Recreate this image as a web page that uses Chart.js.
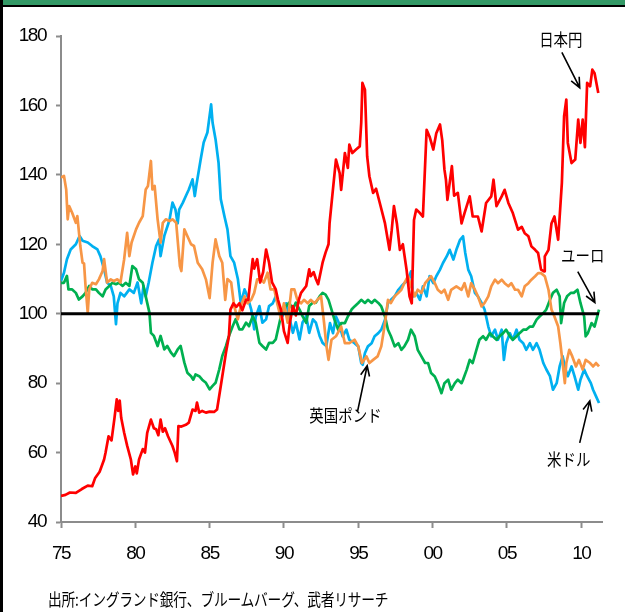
<!DOCTYPE html>
<html>
<head>
<meta charset="utf-8">
<script src="https://cdn.jsdelivr.net/npm/chart.js@4.4.1/dist/chart.umd.min.js"></script>
<style>
html, body { margin: 0; padding: 0; background: #fff; }
#frame { position: relative; width: 625px; height: 612px; overflow: hidden; }
#band { position: absolute; left: 0; top: 0; width: 625px; height: 5px; background: #339966; border-bottom: 2px solid #000; }
#edge { position: absolute; left: 0; top: 0; width: 3px; height: 612px; background: #000; }
#chart { position: absolute; left: 0; top: 0; }
#src { position: absolute; left: 48px; top: 586px; font: 17px "Noto Sans CJK JP"; color: #000;
       transform: scaleX(0.81); transform-origin: 0 0; white-space: nowrap; letter-spacing: -0.3px; }
</style>
</head>
<body>
<div id="frame">
  <div id="band"></div>
  <div id="edge"></div>
  <canvas id="chart" width="625" height="612"></canvas>
  <div id="src">出所:イングランド銀行、ブルームバーグ、武者リサーチ</div>
</div>
<script>
// 実効為替レート (年, 指数)
var yen = [
  [1975.0,47.5],[1975.3,47.8],[1975.6,48.5],[1976.0,48.4],[1976.4,49.5],[1976.8,50.5],[1977.1,50.3],
  [1977.3,52.7],[1977.6,54.5],[1977.9,58],[1978.0,60],[1978.2,64.7],[1978.4,63.5],[1978.6,70],
  [1978.75,75.3],[1978.85,72],[1978.95,75],[1979.05,70],[1979.25,65.7],[1979.45,62],[1979.7,58],
  [1979.85,53.7],[1980.0,56],[1980.1,54],[1980.25,58],[1980.5,61],[1980.65,60],[1980.8,65.7],
  [1981.05,69.5],[1981.25,67],[1981.4,66.7],[1981.55,65],[1981.7,69.5],[1981.85,66],[1982.0,67],
  [1982.2,64.7],[1982.5,61.9],[1982.65,60],[1982.8,57.5],[1982.9,67.6],[1983.1,67.5],[1983.4,68],
  [1983.6,68.6],[1983.85,72.4],[1984.05,72],[1984.15,74.4],[1984.3,71.5],[1984.5,72],[1984.75,71.5],
  [1985.0,71.8],[1985.3,71.7],[1985.5,72.4],[1985.75,79.2],[1986.0,86],[1986.1,88.8],[1986.3,93.6],
  [1986.4,101.2],[1986.6,103],[1986.8,102],[1987.0,103],[1987.2,101],[1987.45,104],[1987.6,104],
  [1987.75,110],[1987.9,115.7],[1988.0,113],[1988.2,115.7],[1988.4,109],[1988.6,112],[1988.8,118.5],
  [1989.0,114.7],[1989.2,109],[1989.45,107],[1989.6,104],[1989.8,101.2],[1990.0,95],[1990.25,91.6],
  [1990.4,97.4],[1990.6,102.2],[1990.8,99.5],[1991.0,104],[1991.15,106],[1991.5,108],[1991.7,112.8],
  [1991.8,110.8],[1992.0,112],[1992.15,110],[1992.3,108.5],[1992.6,114.7],[1992.8,117.6],[1993.0,120],
  [1993.07,126],[1993.25,133.8],[1993.5,144.4],[1993.75,140.5],[1993.85,135.7],[1994.1,146.3],
  [1994.3,142],[1994.4,148.7],[1994.6,146.3],[1994.85,147.3],[1995.1,148.2],[1995.2,155],
  [1995.28,166.5],[1995.45,164.5],[1995.6,145.3],[1995.75,139.6],[1996.0,134.8],[1996.2,136],
  [1996.45,131.9],[1996.8,126],[1997.1,118.4],[1997.25,124],[1997.4,131],[1997.6,126],[1997.8,118.4],
  [1998.0,120],[1998.25,112.7],[1998.45,105],[1998.6,103],[1998.75,127],[1998.9,130],[1999.15,129],
  [1999.35,128],[1999.6,153],[1999.8,151],[2000.05,147.3],[2000.25,152],[2000.5,154.5],[2000.65,150],
  [2000.8,141.5],[2000.9,138.6],[2001.0,132.8],[2001.3,142.5],[2001.45,134],[2001.7,134.8],
  [2001.95,126],[2002.15,129],[2002.5,133.8],[2002.7,128],[2003.05,128],[2003.3,123.7],[2003.6,131.9],
  [2003.95,133.8],[2004.1,138.6],[2004.3,131],[2004.65,133.8],[2004.85,135.7],[2005.1,131.9],
  [2005.4,129],[2005.75,124.2],[2006.0,125],[2006.2,123.2],[2006.45,122.3],[2006.65,119.4],
  [2006.9,118.4],[2007.1,117.5],[2007.3,112.7],[2007.5,112.2],[2007.55,116.5],[2007.8,118.4],
  [2008.0,126],[2008.2,128],[2008.45,121.3],[2008.7,137.7],[2008.85,156.9],[2009.0,161.7],
  [2009.1,149.2],[2009.35,143.4],[2009.6,144.4],[2009.8,155.9],[2009.95,149.2],[2010.1,155.9],
  [2010.25,148],[2010.4,166.5],[2010.6,165.5],[2010.75,170.3],[2010.9,169.3],[2011.15,163.6]
];

var usd = [
  [1975.0,109.4],[1975.2,111.8],[1975.4,115.7],[1975.65,118.5],[1976.0,120],[1976.25,122.4],
  [1976.45,121],[1976.8,120.5],[1977.1,119.5],[1977.45,118.5],[1977.65,116.6],[1977.9,112.8],
  [1978.1,109],[1978.35,108],[1978.55,105],[1978.7,97],[1978.8,103],[1979.0,106],[1979.25,105],
  [1979.6,107],[1979.9,106],[1980.15,109],[1980.4,103],[1980.55,108],[1980.7,105],[1980.9,109],
  [1981.15,114.7],[1981.4,119.5],[1981.6,121.4],[1981.7,116.6],[1981.95,122.4],[1982.3,127],
  [1982.5,132],[1982.7,130],[1982.85,126],[1982.95,130],[1983.2,132],[1983.4,133.9],[1983.6,135.8],
  [1983.85,138.7],[1984.0,133.9],[1984.1,136.8],[1984.4,144.5],[1984.6,149.3],[1984.85,152.2],
  [1985.1,160.3],[1985.2,155],[1985.4,150.2],[1985.6,143.5],[1985.75,133],[1986.0,128],[1986.2,124.3],
  [1986.4,116.6],[1986.65,114.7],[1986.9,110],[1987.1,103],[1987.35,107],[1987.55,105],[1987.8,101.2],
  [1988.0,95.5],[1988.1,99],[1988.35,102.2],[1988.55,97.4],[1988.8,98.4],[1989.0,102.2],[1989.25,103],
  [1989.45,105],[1989.7,101.2],[1989.9,99.3],[1990.15,103],[1990.35,99.3],[1990.6,94.5],[1990.8,97.5],
  [1991.05,92.6],[1991.25,97.5],[1991.5,99.3],[1991.7,94.5],[1991.95,98.4],[1992.15,97.4],
  [1992.4,93.6],[1992.6,91.6],[1992.85,90.7],[1993.1,97.3],[1993.3,94.4],[1993.5,99.2],[1993.7,97.3],
  [1993.95,93.5],[1994.2,95.4],[1994.4,92.5],[1994.75,91.5],[1995.0,90.6],[1995.2,85.8],[1995.3,85.3],
  [1995.45,88.7],[1995.65,90.6],[1995.9,91.5],[1996.1,93.5],[1996.35,94.4],[1996.55,95.4],
  [1996.8,98.3],[1997.0,103.1],[1997.2,104],[1997.45,105],[1997.7,106.9],[1997.9,107.9],[1998.1,108.8],
  [1998.35,109.8],[1998.55,112.2],[1998.7,105],[1998.9,106],[1999.15,104],[1999.35,107.9],[1999.6,105],
  [1999.8,110.8],[2000.05,108.8],[2000.25,110.8],[2000.5,112.7],[2000.7,114.6],[2000.95,116.5],
  [2001.15,118.4],[2001.4,115.6],[2001.6,118.4],[2001.85,121.3],[2002.05,122.3],[2002.2,117.5],
  [2002.4,112.7],[2002.6,110.8],[2002.85,106],[2003.05,105],[2003.3,103.1],[2003.5,101.2],
  [2003.75,96.3],[2003.95,93.5],[2004.2,95.4],[2004.4,92.5],[2004.65,95.4],[2004.8,86.7],
  [2004.95,91.5],[2005.2,94.4],[2005.4,92.5],[2005.65,95.4],[2005.85,92.5],[2006.1,91.5],
  [2006.3,89.6],[2006.55,91.5],[2006.75,89.6],[2007.0,91.5],[2007.2,89.6],[2007.45,85.8],[2007.65,84],
  [2007.9,82],[2008.1,78.1],[2008.35,80],[2008.55,84.8],[2008.75,87.7],[2008.95,83.9],[2009.1,82],
  [2009.35,84.8],[2009.55,82],[2009.8,78.1],[2009.95,81],[2010.2,83.9],[2010.4,82],[2010.65,80],
  [2010.8,78.1],[2011.0,76.2],[2011.2,74.3]
];

var gbp = [
  [1975.0,139.2],[1975.2,139.7],[1975.35,135.8],[1975.45,127.2],[1975.55,131],[1975.75,129.1],
  [1976.0,126.2],[1976.1,128.1],[1976.3,119.5],[1976.45,114.7],[1976.55,114.5],[1976.65,108],
  [1976.8,100.3],[1976.9,107],[1977.1,108.9],[1977.35,108.5],[1977.55,109.9],[1977.8,112.3],
  [1977.9,115.7],[1978.1,109],[1978.35,109.9],[1978.55,109.4],[1978.8,109.9],[1979.0,109],
  [1979.25,115.7],[1979.45,123.3],[1979.6,116.6],[1979.75,120.5],[1980.05,124.3],[1980.25,126.2],
  [1980.5,128.1],[1980.7,135.8],[1980.85,136.8],[1981.05,144],[1981.15,135.8],[1981.3,136.8],
  [1981.5,127.2],[1981.7,120.5],[1981.85,126.2],[1982.05,127.2],[1982.3,126.7],[1982.5,127.2],
  [1982.75,126.2],[1983.0,113.7],[1983.1,112.3],[1983.3,124.3],[1983.5,122.4],[1983.75,120],
  [1983.95,119.5],[1984.2,114.7],[1984.5,112.8],[1984.75,109.9],[1985.0,104.5],[1985.2,114.7],
  [1985.4,121.4],[1985.65,116.6],[1985.85,114.7],[1986.05,104],[1986.2,110],[1986.45,109],
  [1986.65,102.2],[1986.9,98.4],[1987.1,102.2],[1987.35,105],[1987.55,103],[1987.8,104],[1988.0,106],
  [1988.2,109.9],[1988.45,109.9],[1988.65,109],[1988.9,111.8],[1989.1,107],[1989.35,107],
  [1989.55,103],[1989.8,98.4],[1990.0,103],[1990.25,97.4],[1990.5,107],[1990.7,107],[1990.9,104],
  [1991.15,103],[1991.35,104],[1991.6,103],[1991.8,104],[1992.05,103],[1992.25,104],[1992.5,105],
  [1992.7,97.4],[1992.85,91],[1993.0,86.7],[1993.2,92.5],[1993.5,93.5],[1993.85,96.3],[1994.1,91.5],
  [1994.4,91.5],[1994.75,92.5],[1995.0,90.6],[1995.25,85.8],[1995.55,87.7],[1995.75,85.8],
  [1996.0,86.7],[1996.3,87.7],[1996.55,90.6],[1996.8,97.3],[1997.0,104],[1997.2,103.1],[1997.45,105],
  [1997.7,106],[1997.9,106.9],[1998.1,108.8],[1998.35,110.8],[1998.55,107.9],[1998.8,105],
  [1999.0,106.9],[1999.25,106],[1999.5,108.8],[1999.7,109.8],[1999.9,110.8],[2000.15,108.8],
  [2000.35,106.9],[2000.6,106],[2000.8,106.9],[2001.05,104],[2001.25,106.9],[2001.6,107.9],
  [2001.95,106.9],[2002.15,108.8],[2002.4,105],[2002.6,108.8],[2002.85,106.9],[2003.05,105],
  [2003.3,102.1],[2003.5,103.1],[2003.75,105],[2003.95,107.9],[2004.2,109.8],[2004.4,108.8],
  [2004.65,109.8],[2004.85,108.8],[2005.1,107.9],[2005.3,108.8],[2005.55,106.9],[2005.75,106.9],
  [2006.0,105],[2006.2,107.9],[2006.45,108.8],[2006.65,109.8],[2006.9,110.8],[2007.1,111.7],
  [2007.3,111.7],[2007.55,110.8],[2007.8,106.9],[2008.0,101.2],[2008.2,99.2],[2008.45,96.3],
  [2008.6,91.5],[2008.8,83.9],[2008.9,80],[2009.0,85.8],[2009.2,89.6],[2009.4,87.7],[2009.65,84.8],
  [2009.85,86.7],[2010.1,83.9],[2010.3,86.7],[2010.6,85.8],[2010.8,84.8],[2011.0,85.8],[2011.2,84.8]
];

var eur = [
  [1975.0,108.9],[1975.2,108.9],[1975.4,110.9],[1975.5,107],[1975.75,107],[1976.0,106],[1976.2,104.1],
  [1976.45,105],[1976.65,106],[1976.9,108],[1977.1,107],[1977.35,107],[1977.55,106],[1977.8,105],
  [1978.0,107],[1978.25,108],[1978.45,108.9],[1978.7,108.5],[1978.9,108.9],[1979.15,108],
  [1979.35,108.9],[1979.6,108],[1979.8,113.7],[1980.05,112.8],[1980.25,109.9],[1980.5,108.9],
  [1980.7,105],[1980.95,100.3],[1981.05,94.5],[1981.25,93.6],[1981.5,90.7],[1981.7,93.6],
  [1981.95,89.7],[1982.15,90.7],[1982.4,88.8],[1982.6,87.8],[1982.85,89.7],[1983.05,90.7],
  [1983.3,85.9],[1983.5,83],[1983.75,82],[1983.9,81],[1984.05,82.5],[1984.3,82],[1984.5,81],
  [1984.75,80.1],[1985.0,78.2],[1985.2,79.2],[1985.4,80.1],[1985.65,84],[1985.85,87.8],[1986.1,90.7],
  [1986.3,93.6],[1986.55,96.4],[1986.75,98.4],[1987.0,95.5],[1987.2,95.5],[1987.45,97.4],
  [1987.65,96.4],[1987.9,99.3],[1988.1,97.4],[1988.35,91.6],[1988.55,90.7],[1988.8,89.7],[1989.0,91.6],
  [1989.25,91.6],[1989.45,92.6],[1989.7,97.4],[1989.9,101.2],[1990.15,102.2],[1990.35,103.2],
  [1990.6,101.2],[1990.8,103.2],[1991.05,101.2],[1991.25,99.3],[1991.5,97.4],[1991.7,102.2],
  [1991.95,103.2],[1992.15,103.2],[1992.4,105],[1992.6,106],[1992.8,105.5],[1993.0,104],[1993.2,101.2],
  [1993.4,98.3],[1993.65,95.4],[1993.85,97.3],[1994.1,97.3],[1994.3,99.2],[1994.55,101.2],
  [1994.75,102.1],[1995.0,103.1],[1995.2,104],[1995.45,103.1],[1995.65,104],[1995.9,103.1],
  [1996.1,104],[1996.35,103.1],[1996.55,102.1],[1996.8,99.2],[1997.0,95.4],[1997.2,93.5],
  [1997.45,90.6],[1997.7,91.5],[1997.9,89.6],[1998.1,90.6],[1998.35,92.5],[1998.55,95.4],[1998.8,93.5],
  [1999.0,89.6],[1999.25,87.7],[1999.5,85.8],[1999.7,85.8],[1999.9,82.9],[2000.15,81.9],[2000.35,80],
  [2000.6,77.1],[2000.8,80],[2001.05,81],[2001.25,78.1],[2001.5,80],[2001.7,81],[2001.95,80],
  [2002.05,81],[2002.3,83.9],[2002.5,86.7],[2002.7,85.8],[2002.95,89.6],[2003.15,92.5],[2003.4,93.5],
  [2003.6,92.5],[2003.85,94.4],[2004.05,93.5],[2004.3,92.5],[2004.5,93.5],[2004.75,94.4],
  [2004.95,95.4],[2005.2,93.5],[2005.4,92.5],[2005.65,93.5],[2005.85,94.4],[2006.1,95.4],[2006.3,95.4],
  [2006.55,96.3],[2006.75,96.3],[2007.0,98.3],[2007.2,99.2],[2007.45,100.2],[2007.65,101.2],
  [2007.9,104],[2008.1,106],[2008.35,106.9],[2008.55,105],[2008.65,97.3],[2008.85,103.1],[2009.05,105],
  [2009.3,106],[2009.5,106],[2009.75,106.9],[2009.95,103.1],[2010.2,99.2],[2010.3,93.5],[2010.45,94.4],
  [2010.7,97.3],[2010.9,96.3],[2011.2,101.2]
];

var baseLine = [[1975, 100], [2011.2, 100]];

var xTickYears = [1975, 1980, 1985, 1990, 1995, 2000, 2005, 2010];
var xTickLabels = ['75', '80', '85', '90', '95', '00', '05', '10'];

// 注記 (位置はデータ座標)
var notes = [
  { text: '日本円', at: [2008.63, 178.9], from: [2008.7, 175.3], to: [2009.9, 165.1] },
  { text: 'ユーロ', at: [2010.1, 116.7], from: [2009.77, 112.1], to: [2010.92, 103.2] },
  { text: '英国ポンド', at: [1994.14, 70.6], from: [1994.95, 71.8], to: [1995.6, 85.0] },
  { text: '米ドル', at: [2009.16, 57.9], from: [2009.9, 62.8], to: [2010.58, 74.9] }
];

function pts(arr) {
  return arr.map(function (p) { return { x: p[0], y: p[1] }; });
}

// 目盛の数字を詰めて描く
var tightText = {
  id: 'tightText',
  beforeDraw: function (chart) { chart.ctx.letterSpacing = '-1.5px'; }
};

var notePlugin = {
  id: 'notes',
  afterDatasetsDraw: function (chart) {
    var ctx = chart.ctx, sx = chart.scales.x, sy = chart.scales.y;
    ctx.save();
    ctx.letterSpacing = '0px';
    ctx.fillStyle = '#000';
    ctx.strokeStyle = '#000';
    ctx.lineWidth = 1.6;
    ctx.font = '17px "Noto Sans CJK JP"';
    ctx.textAlign = 'center';
    ctx.textBaseline = 'middle';
    notes.forEach(function (n) {
      var tx = sx.getPixelForValue(n.at[0]), ty = sy.getPixelForValue(n.at[1]);
      ctx.save();
      ctx.translate(tx, ty);
      ctx.scale(0.85, 1);
      ctx.fillText(n.text, 0, 0);
      ctx.restore();

      var x0 = sx.getPixelForValue(n.from[0]), y0 = sy.getPixelForValue(n.from[1]);
      var x1 = sx.getPixelForValue(n.to[0]), y1 = sy.getPixelForValue(n.to[1]);
      var a = Math.atan2(y1 - y0, x1 - x0), h = 11, s = 0.42;
      ctx.beginPath();
      ctx.moveTo(x0, y0);
      ctx.lineTo(x1, y1);
      ctx.moveTo(x1 - h * Math.cos(a - s), y1 - h * Math.sin(a - s));
      ctx.lineTo(x1, y1);
      ctx.lineTo(x1 - h * Math.cos(a + s), y1 - h * Math.sin(a + s));
      ctx.stroke();
    });
    ctx.restore();
  }
};

var numFont = { family: '"Liberation Sans Narrow", "Liberation Sans", sans-serif', size: 19 };
var axisGray = '#8c8c8c';

function series(data, color, order, width) {
  return {
    data: pts(data),
    borderColor: color,
    borderWidth: width || 2.7,
    pointRadius: 0,
    borderJoinStyle: 'round',
    tension: 0,
    fill: false,
    order: order
  };
}

new Chart(document.getElementById('chart').getContext('2d'), {
  type: 'line',
  data: {
    datasets: [
      series(baseLine, '#000000', 0, 3),
      series(yen, '#FF0000', 1),
      series(gbp, '#F79646', 2),
      series(eur, '#00B050', 3),
      series(usd, '#00B0F0', 4)
    ]
  },
  options: {
    responsive: false,
    animation: false,
    layout: { padding: { top: 36, right: 23, left: 0, bottom: 0 } },
    plugins: { legend: { display: false }, tooltip: { enabled: false } },
    scales: {
      x: {
        type: 'linear',
        min: 1975,
        max: 2011.4,
        afterFit: function (s) { s.height = 90; },
        afterBuildTicks: function (s) { s.ticks = xTickYears.map(function (v) { return { value: v }; }); },
        ticks: {
          autoSkip: false, maxRotation: 0, color: '#000', font: numFont, padding: 14,
          callback: function (v, i) { return xTickLabels[i]; }
        },
        grid: { drawOnChartArea: false, drawTicks: true, tickLength: 6, tickColor: axisGray, tickWidth: 2 },
        border: { display: true, color: axisGray, width: 2 }
      },
      y: {
        min: 40,
        max: 180,
        afterFit: function (s) { s.width = 61; },
        ticks: { stepSize: 20, color: '#000', font: numFont, padding: 10 },
        grid: { drawOnChartArea: false, drawTicks: true, tickLength: 5, tickColor: axisGray, tickWidth: 2 },
        border: { display: true, color: axisGray, width: 2 }
      }
    }
  },
  plugins: [tightText, notePlugin]
});
</script>
</body>
</html>
